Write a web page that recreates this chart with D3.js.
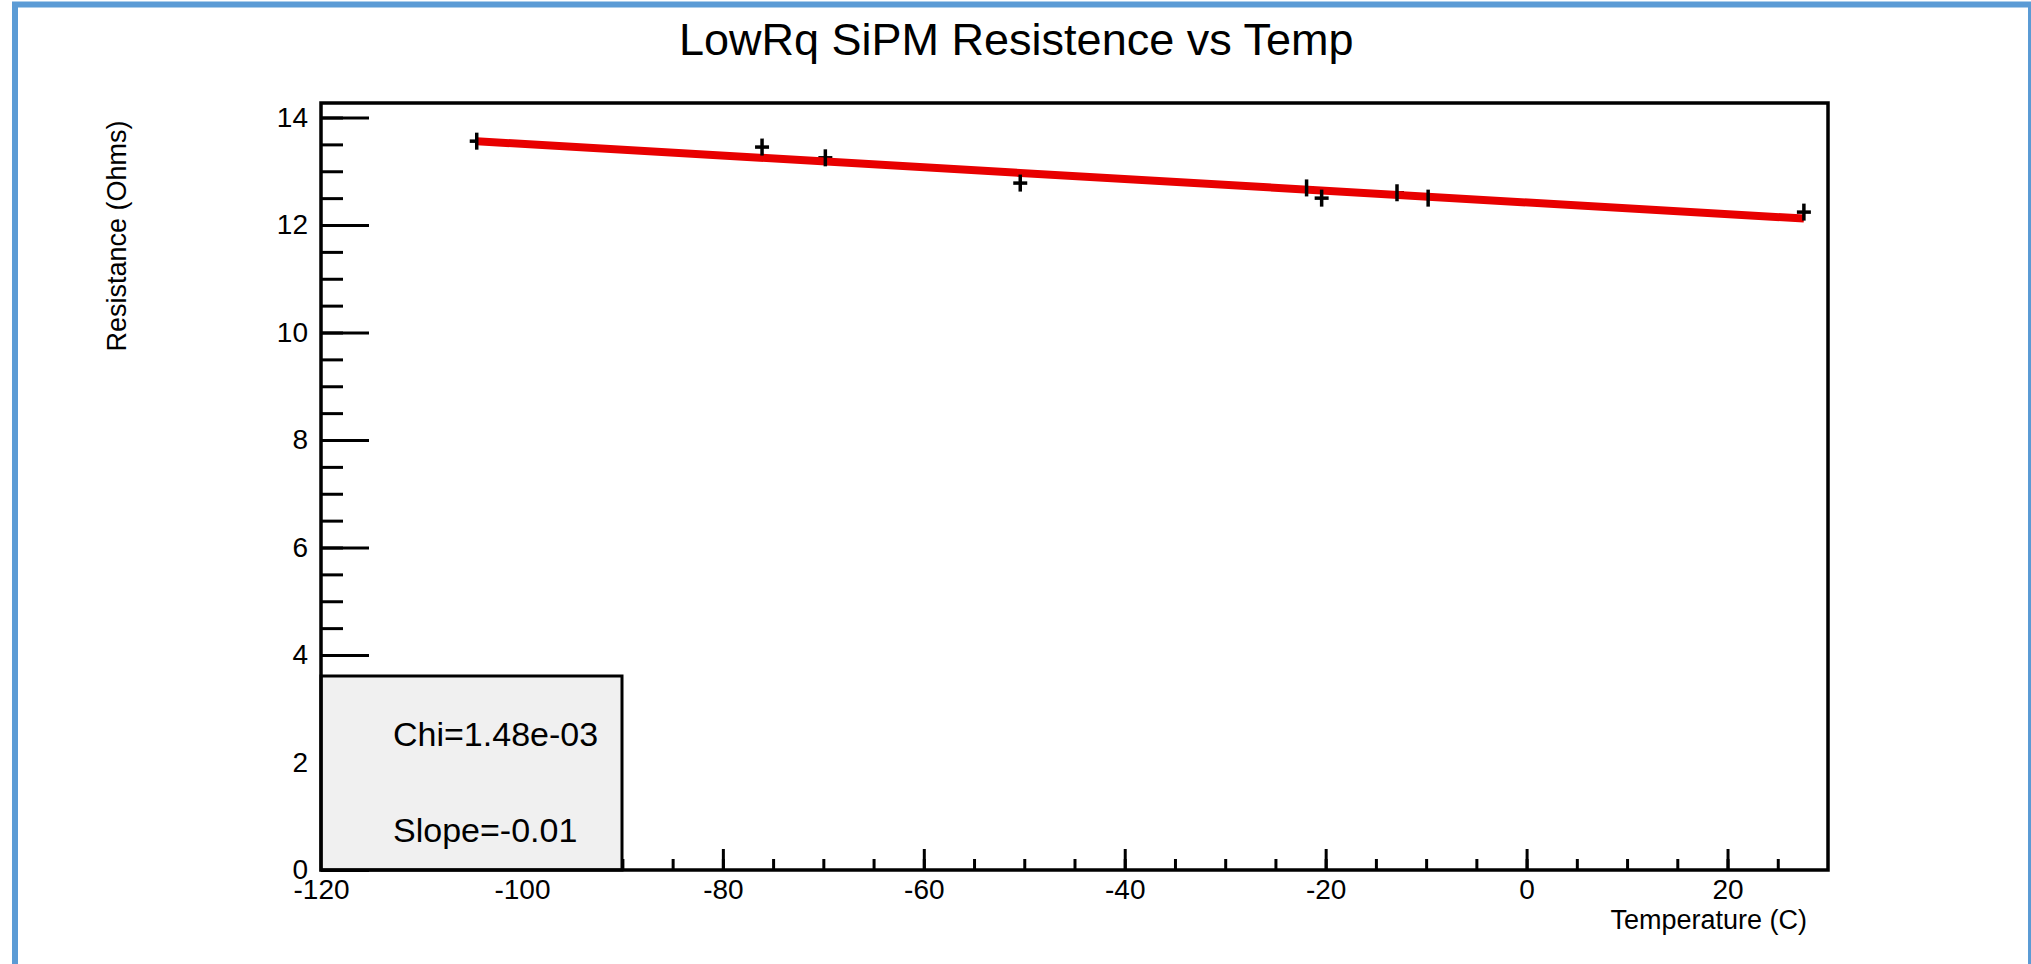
<!DOCTYPE html>
<html>
<head>
<meta charset="utf-8">
<script src="https://cdn.jsdelivr.net/npm/d3@7"></script>
<style>
  html, body { margin: 0; padding: 0; background: #fff; overflow: hidden; }
  svg { display: block; font-family: "Liberation Sans", Arial, Helvetica, sans-serif; }
  .axis text { font-size: 28px; fill: #000; }
  .axis line { stroke: #000; stroke-width: 3px; }
  .axis path { display: none; }
</style>
</head>
<body>
<svg id="chart"></svg>
<script>
// measured points (temperature in C, resistance in ohms)
const tempC = [-104.5, -76.1, -69.8, -50.4, -21.9, -20.4, -12.9, -9.8, 27.6];
const resistanceOhms = [13.56, 13.45, 13.25, 12.78, 12.69, 12.50, 12.60, 12.50, 12.24];

// linear fit
const fitSlope = -0.0109;
const fitIntercept = 12.42;

const xTicks = [-120, -100, -80, -60, -40, -20, 0, 20];
const yTicks = [0, 2, 4, 6, 8, 10, 12, 14];
const statsLines = ["Chi=1.48e-03", "Slope=-0.01"];

const title = "LowRq SiPM Resistence vs Temp";
const xTitle = "Temperature (C)";
const yTitle = "Resistance (Ohms)";

const width = 2031, height = 964;
const frame = {left: 321, right: 1828, top: 103, bottom: 870};

const svg = d3.select('#chart')
    .attr('width', width)
    .attr('height', height);

// blue outline round the picture
svg.append('rect')
    .attr('x', 15).attr('y', 4.5)
    .attr('width', 2016).attr('height', 1000)
    .attr('fill', 'none')
    .attr('stroke', '#5b9bd5')
    .attr('stroke-width', 6);

const xScale = d3.scaleLinear().domain([-120, 30]).range([frame.left, frame.right]);
const yScale = d3.scaleLinear().domain([0, 14.27]).range([frame.bottom, frame.top]);

// plain hyphen for negatives, like the original
const fmt = d => String(d);

// minor ticks first
svg.append('g')
    .attr('class', 'axis')
    .attr('transform', `translate(0,${frame.bottom})`)
    .call(d3.axisBottom(xScale).tickValues(d3.range(-120, 30, 5)).tickSize(-11).tickFormat(''));

svg.append('g')
    .attr('class', 'axis')
    .attr('transform', `translate(${frame.left},0)`)
    .call(d3.axisLeft(yScale).tickValues(d3.range(0, 14.01, 0.5)).tickSize(-22).tickFormat(''));

// major ticks with labels
svg.append('g')
    .attr('class', 'axis')
    .attr('transform', `translate(0,${frame.bottom})`)
    .call(d3.axisBottom(xScale).tickValues(xTicks).tickSize(-21).tickPadding(9).tickFormat(fmt));

svg.append('g')
    .attr('class', 'axis')
    .attr('transform', `translate(${frame.left},0)`)
    .call(d3.axisLeft(yScale).tickValues(yTicks).tickSize(-48).tickPadding(13).tickFormat(fmt));

// stats box
svg.append('rect')
    .attr('x', frame.left).attr('y', 676)
    .attr('width', 622 - frame.left).attr('height', frame.bottom - 676)
    .attr('fill', '#f0f0f0')
    .attr('stroke', '#000')
    .attr('stroke-width', 3);

svg.selectAll('.stat')
    .data(statsLines)
    .join('text')
    .attr('class', 'stat')
    .attr('x', 393)
    .attr('y', (d, i) => 746 + i * 96)
    .attr('font-size', 34)
    .text(d => d);

// frame
svg.append('rect')
    .attr('x', frame.left).attr('y', frame.top)
    .attr('width', frame.right - frame.left).attr('height', frame.bottom - frame.top)
    .attr('fill', 'none')
    .attr('stroke', '#000')
    .attr('stroke-width', 3.5);

const points = tempC.map((t, i) => ({t: t, r: resistanceOhms[i]}));

// horizontal arms of the markers sit under the fit line
svg.selectAll('.hbar')
    .data(points)
    .join('line')
    .attr('class', 'hbar')
    .attr('x1', d => xScale(d.t) - 7).attr('x2', d => xScale(d.t) + 7)
    .attr('y1', d => yScale(d.r)).attr('y2', d => yScale(d.r))
    .attr('stroke', '#000')
    .attr('stroke-width', 3.5);

const fitRange = d3.extent(tempC);
svg.append('line')
    .attr('x1', xScale(fitRange[0]))
    .attr('y1', yScale(fitIntercept + fitSlope * fitRange[0]))
    .attr('x2', xScale(fitRange[1]))
    .attr('y2', yScale(fitIntercept + fitSlope * fitRange[1]))
    .attr('stroke', '#e80000')
    .attr('stroke-width', 8);

svg.selectAll('.vbar')
    .data(points)
    .join('line')
    .attr('class', 'vbar')
    .attr('x1', d => xScale(d.t)).attr('x2', d => xScale(d.t))
    .attr('y1', d => yScale(d.r) - 8.5).attr('y2', d => yScale(d.r) + 8.5)
    .attr('stroke', '#000')
    .attr('stroke-width', 3.5);

// titles
svg.append('text')
    .attr('x', 679).attr('y', 55)
    .attr('font-size', 45)
    .text(title);

svg.append('text')
    .attr('x', 1807).attr('y', 929)
    .attr('text-anchor', 'end')
    .attr('font-size', 27)
    .text(xTitle);

svg.append('text')
    .attr('transform', 'translate(126,236) rotate(-90)')
    .attr('text-anchor', 'middle')
    .attr('font-size', 27)
    .text(yTitle);
</script>
</body>
</html>
